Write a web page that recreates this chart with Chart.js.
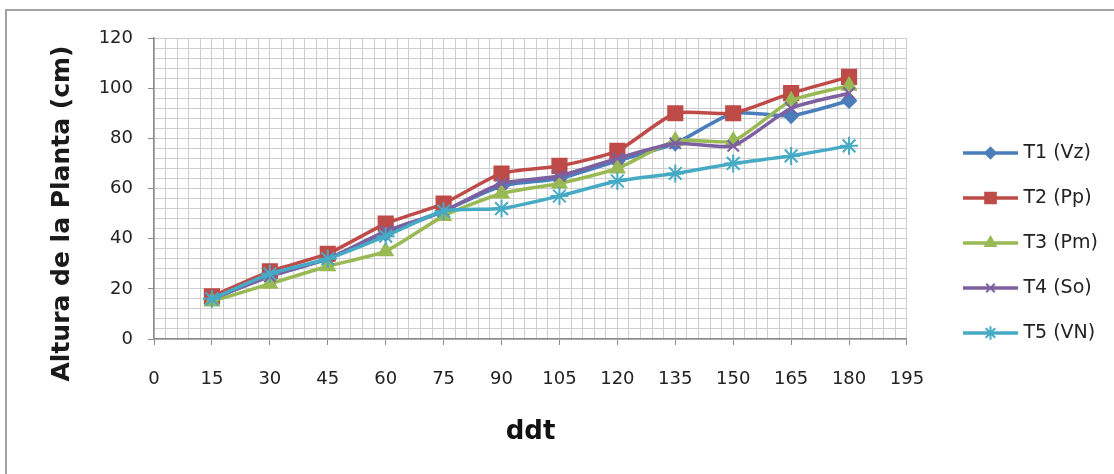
<!DOCTYPE html>
<html>
<head>
<meta charset="utf-8">
<script src="https://cdn.jsdelivr.net/npm/chart.js@4.4.1/dist/chart.umd.min.js"></script>
<style>
  html, body { margin: 0; padding: 0; background: #fff; overflow: hidden; }
  #frame { position: absolute; left: 5px; top: 9px; width: 1109px; height: 465px; border-top: 2px solid #a3a3a3; border-left: 2px solid #a3a3a3; box-sizing: border-box; }
  #wrap { position: absolute; left: 0; top: 0; width: 1114px; height: 474px; }
</style>
</head>
<body>
<div id="frame"></div>
<div id="wrap"><canvas id="chart" width="1114" height="474"></canvas></div>
<script>
// dias despues del trasplante
const ddt = [15, 30, 45, 60, 75, 90, 105, 120, 135, 150, 165, 180];

const seriesNames = ['T1 (Vz)', 'T2 (Pp)', 'T3 (Pm)', 'T4 (So)', 'T5 (VN)'];
const t1Vz = [16, 25, 32, 42, 51, 61, 64, 71, 78, 90, 89, 95];
const t2Pp = [17, 27, 34, 46, 54, 66, 69, 75, 90, 90, 98, 104.5];
const t3Pm = [15, 22, 29, 35, 49, 58, 62, 68, 79, 79, 95, 101];
const t4So = [16, 25, 32, 43, 51, 62, 65, 72, 78, 77, 92, 98];
const t5VN = [16, 26, 32, 41, 51, 52, 57, 63, 66, 70, 73, 77];

const xTickLabels = [0, 15, 30, 45, 60, 75, 90, 105, 120, 135, 150, 165, 180, 195];
const yTickLabels = [0, 20, 40, 60, 80, 100, 120];
const xTitle = 'ddt';
const yTitle = 'Altura de la Planta (cm)';

const colors = ['#4a7ebb', '#be4b48', '#98b954', '#7d60a0', '#46aac5'];
const markers = ['rectRot', 'rect', 'triangle', 'crossRot', 'star'];
const markerSize = [7, 10, 8, 8, 9];

const PSW = 81;           // legend box width
const ICON_W = PSW + 8;
const LINE_LEN = 55;

function legendIcon(color, style, r) {
    const c = document.createElement('canvas');
    c.width = ICON_W;
    c.height = 20;
    const g = c.getContext('2d');
    g.strokeStyle = color;
    g.fillStyle = color;
    g.lineWidth = 3.5;
    g.beginPath();
    g.moveTo(ICON_W - LINE_LEN, 10);
    g.lineTo(ICON_W, 10);
    g.stroke();
    g.lineWidth = 2;
    Chart.helpers.drawPoint(g, {pointStyle: style, radius: r, borderWidth: 2, rotation: 0}, ICON_W - LINE_LEN / 2, 10);
    return c;
}

const allSeries = [t1Vz, t2Pp, t3Pm, t4So, t5VN];
const datasets = allSeries.map((vals, i) => ({
    label: seriesNames[i],
    data: ddt.map((d, j) => ({x: d, y: vals[j]})),
    borderColor: colors[i],
    backgroundColor: colors[i],
    borderWidth: 3.5,
    pointStyle: markers[i],
    pointRadius: markerSize[i],
    pointBorderWidth: 2,
    tension: 0.2,
    order: 5 - i
}));
const icons = datasets.map((ds, i) => legendIcon(colors[i], markers[i], markerSize[i] * 0.75));

const yTitlePlugin = {
    id: 'yTitle',
    afterDraw(chart) {
        const ctx = chart.ctx;
        const a = chart.chartArea;
        ctx.save();
        ctx.translate(a.left - 92, (a.top + a.bottom) / 2 + 25);
        ctx.rotate(-Math.PI / 2);
        ctx.font = 'bold 25px "DejaVu Sans"';
        ctx.fillStyle = '#1a1a1a';
        ctx.textAlign = 'center';
        ctx.textBaseline = 'middle';
        ctx.fillText(yTitle, 0, 0);
        ctx.restore();
    }
};

const gridColor = '#cdcdcd';
const axisColor = '#8c8c8c';

new Chart(document.getElementById('chart'), {
    type: 'line',
    data: {datasets: datasets},
    plugins: [yTitlePlugin],
    options: {
        responsive: false,
        animation: false,
        events: [],
        layout: {padding: {top: 38, right: 6, bottom: 26, left: 0}},
        scales: {
            x: {
                type: 'linear',
                min: 0,
                max: 195,
                afterFit: (s) => { s.height = 109; },
                border: {color: axisColor, width: 1.5},
                grid: {
                    color: gridColor,
                    lineWidth: 1,
                    tickLength: 6,
                    tickColor: (c) => (c.tick && xTickLabels.includes(c.tick.value)) ? axisColor : 'rgba(0,0,0,0)'
                },
                ticks: {
                    stepSize: 3,
                    autoSkip: false,
                    maxRotation: 0,
                    padding: 24,
                    color: '#222',
                    font: {family: 'DejaVu Sans', size: 18},
                    callback: (v) => xTickLabels.includes(v) ? String(v) : ''
                },
                title: {
                    display: true,
                    text: xTitle,
                    color: '#111',
                    font: {family: 'DejaVu Sans', size: 26, weight: 'bold'},
                    padding: {top: 0, bottom: 0}
                }
            },
            y: {
                min: 0,
                max: 120,
                afterFit: (s) => { s.width = 154; },
                border: {color: axisColor, width: 1.5},
                grid: {
                    color: gridColor,
                    lineWidth: 1,
                    tickLength: 6,
                    tickColor: (c) => (c.tick && yTickLabels.includes(c.tick.value)) ? axisColor : 'rgba(0,0,0,0)'
                },
                ticks: {
                    stepSize: 4,
                    autoSkip: false,
                    padding: 15,
                    color: '#222',
                    font: {family: 'DejaVu Sans', size: 18},
                    callback: (v) => yTickLabels.includes(v) ? String(v) : ''
                }
            }
        },
        plugins: {
            tooltip: {enabled: false},
            legend: {
                position: 'right',
                align: 'center',
                labels: {
                    usePointStyle: true,
                    pointStyleWidth: PSW,
                    padding: 26,
                    color: '#222',
                    font: {family: 'DejaVu Sans', size: 19},
                    generateLabels: (chart) => chart.data.datasets.map((ds, i) => ({
                        text: ds.label,
                        pointStyle: icons[i],
                        fillStyle: ds.borderColor,
                        strokeStyle: ds.borderColor,
                        lineWidth: 0,
                        hidden: false,
                        datasetIndex: i,
                        fontColor: '#222'
                    }))
                }
            }
        }
    }
});
</script>
</body>
</html>
